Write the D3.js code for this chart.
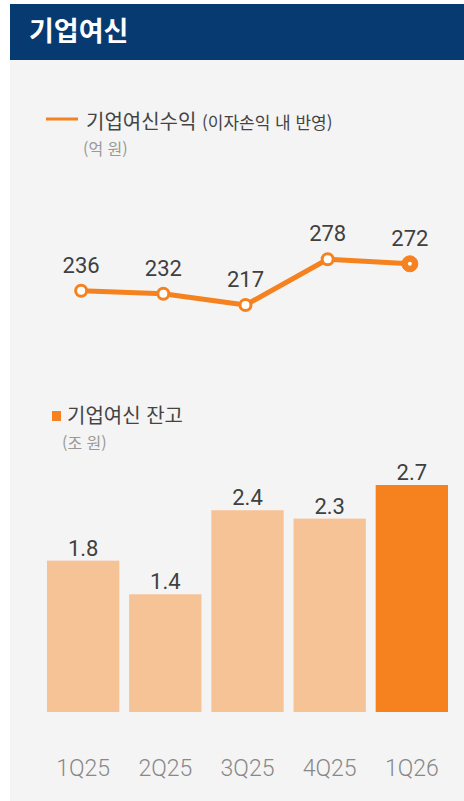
<!DOCTYPE html>
<html lang="ko">
<head>
<meta charset="UTF-8">
<title>기업여신</title>
<script src="https://cdnjs.cloudflare.com/ajax/libs/d3/7.8.5/d3.min.js"></script>
<style>
  body { margin: 0; background: #fff; }
  svg text { font-family: Roboto, "Noto Sans CJK KR", sans-serif; }
</style>
</head>
<body>
<div id="chart"></div>
<script>
    // data
    var quarters = ["1Q25", "2Q25", "3Q25", "4Q25", "1Q26"];
    var incomeValues = [236, 232, 217, 278, 272];   // 기업여신수익 (억 원)
    var balanceValues = [1.8, 1.4, 2.4, 2.3, 2.7];  // 기업여신 잔고 (조 원)

    var W = 464, H = 801;
    var orange = "#f5821f", lightOrange = "#f6c397";

    var svg = d3.select("#chart").append("svg")
        .attr("width", W)
        .attr("height", H);

    // panel + header
    svg.append("rect").attr("x", 10).attr("y", 60).attr("width", W - 10).attr("height", H - 60)
        .attr("fill", "#f4f4f4");
    svg.append("rect").attr("x", 10).attr("y", 4).attr("width", W - 10).attr("height", 56)
        .attr("fill", "#083a72");
    svg.append("text").attr("x", 29).attr("y", 41)
        .attr("fill", "#fff").attr("font-size", 27).attr("font-weight", 700)
        .style("font-family", "'Noto Sans CJK KR', sans-serif")
        .text("기업여신");

    var x = d3.scaleBand()
        .domain(quarters)
        .range([47, 448])
        .paddingInner(0.12);

    // ---- line chart (income)
    var yLine = d3.scaleLinear()
        .domain([217, 278])
        .range([305, 259.3]);

    var cx = function (d, i) { return x(quarters[i]) + x.bandwidth() / 2 - 2; };

    var lg1 = svg.append("g");
    lg1.append("line").attr("x1", 46).attr("x2", 78).attr("y1", 119).attr("y2", 119)
        .attr("stroke", orange).attr("stroke-width", 3);
    var t1 = lg1.append("text").attr("x", 86).attr("y", 129).attr("fill", "#444")
        .style("font-family", "'Noto Sans CJK KR', sans-serif");
    t1.append("tspan").attr("font-size", 20).text("기업여신수익 ");
    t1.append("tspan").attr("font-size", 17).text("(이자손익 내 반영)");
    lg1.append("text").attr("x", 83).attr("y", 155).attr("fill", "#999").attr("font-size", 16)
        .style("font-family", "'Noto Sans CJK KR', sans-serif")
        .text("(억 원)");

    var line = d3.line()
        .x(cx)
        .y(function (d) { return yLine(d); });

    svg.append("path")
        .datum(incomeValues)
        .attr("d", line)
        .attr("fill", "none")
        .attr("stroke", orange)
        .attr("stroke-width", 5)
        .attr("stroke-linejoin", "round");

    var last = incomeValues.length - 1;
    svg.selectAll(".dot").data(incomeValues).enter().append("circle")
        .attr("class", "dot")
        .attr("cx", cx)
        .attr("cy", function (d) { return yLine(d); })
        .attr("r", function (d, i) { return i === last ? 8 : 5.5; })
        .attr("fill", function (d, i) { return i === last ? orange : "#fff"; })
        .attr("stroke", orange)
        .attr("stroke-width", function (d, i) { return i === last ? 1 : 3; });
    svg.append("circle")
        .attr("cx", cx(incomeValues[last], last))
        .attr("cy", yLine(incomeValues[last]))
        .attr("r", 2).attr("fill", "#fff");

    svg.selectAll(".lineLabel").data(incomeValues).enter().append("text")
        .attr("class", "lineLabel")
        .attr("x", cx)
        .attr("y", function (d) { return yLine(d) - 18; })
        .attr("text-anchor", "middle")
        .attr("font-size", 22)
        .attr("fill", "#404040")
        .text(function (d) { return d; });

    // ---- bar chart (balance)
    var yBar = d3.scaleLinear()
        .domain([0, 2.7])
        .range([712, 485]);

    var lg2 = svg.append("g");
    lg2.append("rect").attr("x", 52).attr("y", 411).attr("width", 9).attr("height", 10)
        .attr("fill", orange);
    lg2.append("text").attr("x", 67).attr("y", 423).attr("fill", "#444").attr("font-size", 20)
        .style("font-family", "'Noto Sans CJK KR', sans-serif")
        .text("기업여신 잔고");
    lg2.append("text").attr("x", 62).attr("y", 449).attr("fill", "#999").attr("font-size", 16)
        .style("font-family", "'Noto Sans CJK KR', sans-serif")
        .text("(조 원)");

    svg.selectAll(".bar").data(balanceValues).enter().append("rect")
        .attr("class", "bar")
        .attr("x", function (d, i) { return x(quarters[i]); })
        .attr("width", x.bandwidth())
        .attr("y", function (d) { return yBar(d); })
        .attr("height", function (d) { return yBar(0) - yBar(d); })
        .attr("fill", function (d, i) { return i === last ? orange : lightOrange; });

    svg.selectAll(".barLabel").data(balanceValues).enter().append("text")
        .attr("class", "barLabel")
        .attr("x", function (d, i) { return x(quarters[i]) + x.bandwidth() / 2; })
        .attr("y", function (d) { return yBar(d) - 5; })
        .attr("text-anchor", "middle")
        .attr("font-size", 22)
        .attr("fill", "#404040")
        .text(function (d) { return d.toFixed(1); });

    // x axis labels
    var xAxis = d3.axisBottom(x).tickSize(0).tickPadding(0);
    var gx = svg.append("g")
        .attr("transform", "translate(0,760)")
        .call(xAxis);
    gx.select(".domain").remove();
    gx.selectAll("text")
        .attr("dy", "0.71em")
        .attr("font-size", 23)
        .attr("font-weight", 300)
        .attr("fill", "#888")
        .style("font-family", "Roboto, sans-serif");
</script>
</body>
</html>
